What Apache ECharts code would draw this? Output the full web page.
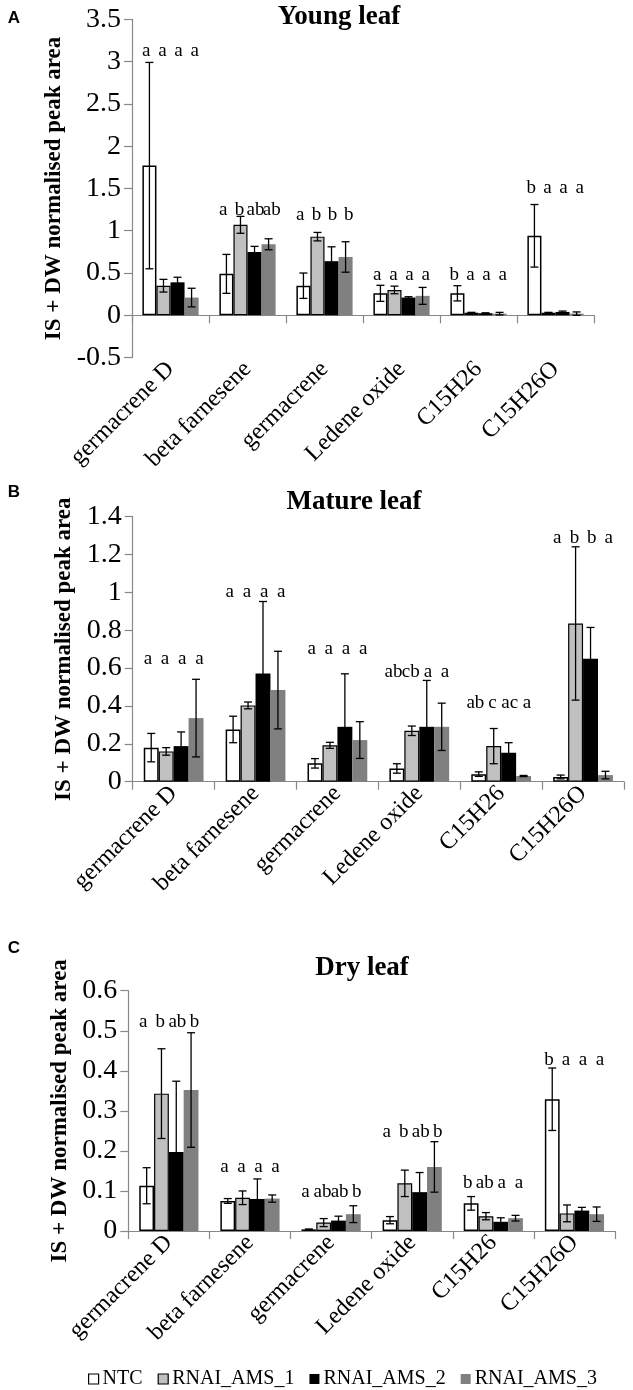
<!DOCTYPE html>
<html><head><meta charset="utf-8">
<script src="https://cdn.jsdelivr.net/npm/echarts@6/dist/echarts.min.js"></script>
<style>html,body{margin:0;padding:0;background:#fff}#c{width:633px;height:1390px}</style>
</head><body><div id="c"></div>
<script>
const categories = ['germacrene D','beta farnesene','germacrene','Ledene oxide','C15H26','C15H26O'];
const seriesNames = ['NTC','RNAI_AMS_1','RNAI_AMS_2','RNAI_AMS_3'];

// Young leaf
const youngNTC  = [1.77, 0.49, 0.35, 0.26, 0.26, 0.94];
const youngAMS1 = [0.35, 1.07, 0.93, 0.30, 0.03, 0.03];
const youngAMS2 = [0.39, 0.75, 0.64, 0.21, 0.025, 0.04];
const youngAMS3 = [0.21, 0.84, 0.69, 0.23, 0.02, 0.02];
const youngErrNTC  = [1.22, 0.23, 0.15, 0.095, 0.09, 0.37];
const youngErrAMS1 = [0.075, 0.10, 0.05, 0.045, 0.005, 0.005];
const youngErrAMS2 = [0.06, 0.065, 0.17, 0.01, 0.005, 0.01];
const youngErrAMS3 = [0.11, 0.065, 0.18, 0.10, 0.015, 0.02];
const youngLetters = [['a','a','a','a'],['a','b','ab','ab'],['a','b','b','b'],['a','a','a','a'],['b','a','a','a'],['b','a','a','a']];
const youngLetterY = [3.13, 1.245, 1.185, 0.476, 0.476, 1.5];
const youngTicks = {min: -0.5, max: 3.5, interval: 0.5};

// Mature leaf
const matureNTC  = [0.18, 0.276, 0.097, 0.07, 0.04, 0.025];
const matureAMS1 = [0.16, 0.403, 0.192, 0.269, 0.188, 0.836];
const matureAMS2 = [0.188, 0.572, 0.29, 0.29, 0.153, 0.65];
const matureAMS3 = [0.336, 0.484, 0.22, 0.29, 0.03, 0.035];
const matureErrNTC  = [0.075, 0.07, 0.025, 0.025, 0.012, 0.01];
const matureErrAMS1 = [0.02, 0.018, 0.016, 0.025, 0.093, 0.405];
const matureErrAMS2 = [0.075, 0.38, 0.28, 0.245, 0.053, 0.165];
const matureErrAMS3 = [0.205, 0.205, 0.097, 0.125, 0.003, 0.02];
const matureLetters = [['a','a','a','a'],['a','a','a','a'],['a','a','a','a'],['ab','cb','a','a'],['ab','c','ac','a'],['a','b','b','a']];
const matureLetterY = [0.65, 1.0, 0.70, 0.58, 0.415, 1.29];
const matureTicks = {min: 0, max: 1.4, interval: 0.2};

// Dry leaf
const dryNTC  = [0.113, 0.075, 0.004, 0.027, 0.069, 0.329];
const dryAMS1 = [0.343, 0.083, 0.021, 0.119, 0.037, 0.044];
const dryAMS2 = [0.197, 0.08, 0.026, 0.097, 0.023, 0.051];
const dryAMS3 = [0.352, 0.081, 0.042, 0.16, 0.032, 0.042];
const dryErrNTC  = [0.045, 0.006, 0.001, 0.009, 0.017, 0.078];
const dryErrAMS1 = [0.112, 0.017, 0.01, 0.033, 0.009, 0.021];
const dryErrAMS2 = [0.177, 0.05, 0.011, 0.049, 0.01, 0.008];
const dryErrAMS3 = [0.143, 0.009, 0.021, 0.063, 0.007, 0.018];
const dryLetters = [['a','b','ab','b'],['a','a','a','a'],['a','ab','ab','b'],['a','b','ab','b'],['b','ab','a','a'],['b','a','a','a']];
const dryLetterY = [0.523, 0.16, 0.098, 0.248, 0.12, 0.427];
const dryTicks = {min: 0, max: 0.6, interval: 0.1};

const panelTitles = ['Young leaf','Mature leaf','Dry leaf'];
const panelLetters = ['A','B','C'];
const yName = 'IS + DW normalised peak area';

const panels = [
  {vals:[youngNTC,youngAMS1,youngAMS2,youngAMS3], errs:[youngErrNTC,youngErrAMS1,youngErrAMS2,youngErrAMS3], letters:youngLetters, letterY:youngLetterY, ticks:youngTicks,
   grid:{left:132, top:19.3, width:462, height:338.3}, nameGap:61, title:[339,17], tag:[14,18]},
  {vals:[matureNTC,matureAMS1,matureAMS2,matureAMS3], errs:[matureErrNTC,matureErrAMS1,matureErrAMS2,matureErrAMS3], letters:matureLetters, letterY:matureLetterY, ticks:matureTicks,
   grid:{left:132.7, top:516.7, width:491.3, height:265}, nameGap:56, title:[354,502], tag:[14,492]},
  {vals:[dryNTC,dryAMS1,dryAMS2,dryAMS3], errs:[dryErrNTC,dryErrAMS1,dryErrAMS2,dryErrAMS3], letters:dryLetters, letterY:dryLetterY, ticks:dryTicks,
   grid:{left:128.3, top:990.7, width:486.7, height:240.3}, nameGap:57, title:[362,968], tag:[14,948]}
];

const SERIF = 'Liberation Serif, "Times New Roman", serif';
const GAP = 0.27;
const fills = ['#ffffff','#c0c0c0','#000000','#808080'];
const borders = ['#000000','#000000','#000000','#808080'];
const borderW = [1.5,1.2,0,0];

const grids = [], xAxes = [], yAxes = [], series = [], graphics = [];
panels.forEach((p, gi) => {
  grids.push(Object.assign({containLabel:false}, p.grid));
  xAxes.push({
    type:'category', gridIndex:gi, data:categories,
    axisLine:{show:true, onZero:true, lineStyle:{color:'#888', width:1.2}},
    axisTick:{show:true, length:8, lineStyle:{color:'#888', width:1.2}},
    axisLabel:{rotate:45, interval:0, margin:8, fontFamily:SERIF, fontSize:24, color:'#000'},
    splitLine:{show:false}
  });
  yAxes.push({
    type:'value', gridIndex:gi, min:p.ticks.min, max:p.ticks.max, interval:p.ticks.interval,
    name:yName, nameLocation:'middle', nameGap:p.nameGap,
    nameTextStyle:{fontFamily:SERIF, fontSize:23, fontWeight:'bold', color:'#000'},
    axisLine:{show:true, onZero:false, lineStyle:{color:'#888', width:1.2}},
    axisTick:{show:true, length:8, lineStyle:{color:'#888', width:1.2}},
    axisLabel:{margin:11, fontFamily:SERIF, fontSize:28, color:'#000'},
    splitLine:{show:false}
  });
  p.vals.forEach((arr, si) => {
    series.push({
      type:'bar', name:seriesNames[si], xAxisIndex:gi, yAxisIndex:gi, data:arr,
      barGap:'0%', barCategoryGap:(GAP*100)+'%',
      itemStyle:{color:fills[si], borderColor:borders[si], borderWidth:borderW[si]},
      emphasis:{disabled:true}, silent:true
    });
  });
  p.vals.forEach((arr, si) => {
    const errs = p.errs[si];
    series.push({
      type:'custom', xAxisIndex:gi, yAxisIndex:gi, z:10, silent:true,
      data: arr.map((v,i)=>[i, v, errs[i]]),
      encode:{x:0, y:1},
      renderItem(params, api){
        const ci = api.value(0), v = api.value(1), e = api.value(2);
        const band = api.size([1,0])[0];
        const bw = band*(1-GAP)/4;
        const x = api.coord([ci, v])[0] + (si-1.5)*bw;
        const yHi = api.coord([ci, v+e])[1], yLo = api.coord([ci, v-e])[1];
        const cap = 4;
        const st = {stroke:'#000', lineWidth:1.3};
        return {type:'group', children:[
          {type:'line', shape:{x1:x,y1:yHi,x2:x,y2:yLo}, style:st},
          {type:'line', shape:{x1:x-cap,y1:yHi,x2:x+cap,y2:yHi}, style:st},
          {type:'line', shape:{x1:x-cap,y1:yLo,x2:x+cap,y2:yLo}, style:st}
        ]};
      }
    });
  });
  const ldata = [];
  p.letters.forEach((row, ci) => row.forEach((t, si) => ldata.push([ci, p.letterY[ci], si, t])));
  series.push({
    type:'custom', xAxisIndex:gi, yAxisIndex:gi, z:11, silent:true,
    data: ldata, encode:{x:0, y:1},
    renderItem(params, api){
      const ci = api.value(0), y = api.value(1), si = api.value(2);
      const t = ldata[params.dataIndex][3];
      const band = api.size([1,0])[0];
      const bw = band*(1-GAP)/4;
      const pt = api.coord([ci, y]);
      return {type:'text', x: pt[0] + (si-1.5)*bw*1.15, y: pt[1],
        style:{text:t, font:'19px '+SERIF, fill:'#000', align:'center', verticalAlign:'middle'}};
    }
  });
  graphics.push({type:'text', x:p.title[0], y:p.title[1],
    style:{text:panelTitles[gi], font:'bold 27px '+SERIF, fill:'#000', align:'center', verticalAlign:'middle'}});
  graphics.push({type:'text', x:p.tag[0], y:p.tag[1],
    style:{text:panelLetters[gi], font:'bold 17px "Liberation Sans", Arial, sans-serif', fill:'#000', align:'center', verticalAlign:'middle'}});
});

const chart = echarts.init(document.getElementById('c'), null, {renderer:'canvas'});
chart.setOption({
  animation:false,
  backgroundColor:'#fff',
  grid:grids, xAxis:xAxes, yAxis:yAxes, series:series, graphic:graphics,
  legend:{
    top:1364, left:83, itemWidth:10, itemHeight:10, itemGap:15, icon:'rect',
    textStyle:{fontFamily:SERIF, fontSize:20, color:'#000', padding:[0,0,0,-1]},
    data: seriesNames.map((n,si)=>({name:n, itemStyle:{color:fills[si], borderColor:si<2?'#000':fills[si], borderWidth:si<2?1.2:0}})),
    selectedMode:false
  }
});
</script></body></html>
